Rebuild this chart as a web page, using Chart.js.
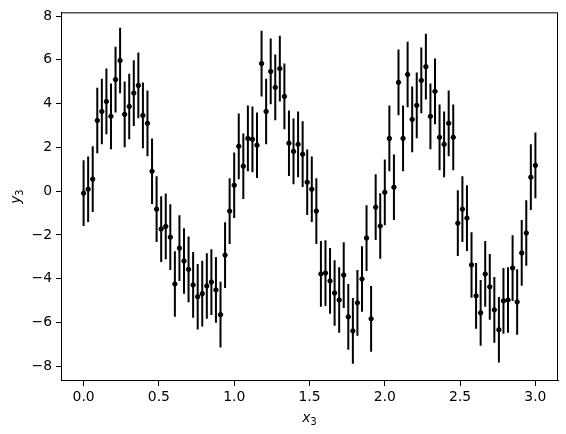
<!DOCTYPE html>
<html>
<head>
<meta charset="utf-8">
<script src="https://cdn.jsdelivr.net/npm/chart.js@4.4.1/dist/chart.umd.min.js"></script>
<style>
  html, body { margin: 0; padding: 0; background: #fff; }
</style>
</head>
<body>
<canvas id="chart" width="566" height="434"></canvas>
<script>
// x positions of the samples (evenly spaced on 0..3)
const xValues = [
  0.0000, 0.0303, 0.0606, 0.0909, 0.1212, 0.1515, 0.1818, 0.2121, 0.2424, 0.2727,
  0.3030, 0.3333, 0.3636, 0.3939, 0.4242, 0.4545, 0.4848, 0.5152, 0.5455, 0.5758,
  0.6061, 0.6364, 0.6667, 0.6970, 0.7273, 0.7576, 0.7879, 0.8182, 0.8485, 0.8788,
  0.9091, 0.9394, 0.9697, 1.0000, 1.0303, 1.0606, 1.0909, 1.1212, 1.1515, 1.1818,
  1.2121, 1.2424, 1.2727, 1.3030, 1.3333, 1.3636, 1.3939, 1.4242, 1.4545, 1.4848,
  1.5152, 1.5455, 1.5758, 1.6061, 1.6364, 1.6667, 1.6970, 1.7273, 1.7576, 1.7879,
  1.8182, 1.8485, 1.8788, 1.9091, 1.9394, 1.9697, 2.0000, 2.0303, 2.0606, 2.0909,
  2.1212, 2.1515, 2.1818, 2.2121, 2.2424, 2.2727, 2.3030, 2.3333, 2.3636, 2.3939,
  2.4242, 2.4545, 2.4848, 2.5152, 2.5455, 2.5758, 2.6061, 2.6364, 2.6667, 2.6970,
  2.7273, 2.7576, 2.7879, 2.8182, 2.8485, 2.8788, 2.9091, 2.9394, 2.9697, 3.0000
];

// measured y values
const yValues = [
  -0.09, 0.09, 0.55, 3.23, 3.64, 4.10, 3.42, 5.10, 5.97, 3.51,
  3.87, 4.48, 4.83, 3.46, 3.10, 0.91, -0.82, -1.73, -1.61, -2.10,
  -4.24, -2.60, -3.19, -3.57, -4.28, -4.82, -4.68, -4.33, -4.15, -4.51,
  -5.64, -2.92, -0.91, 0.27, 2.05, 1.14, 2.41, 2.37, 2.10, 5.83,
  3.64, 5.47, 4.74, 5.60, 4.33, 2.19, 1.82, 2.14, 1.69, 0.41,
  0.09, -0.91, -3.78, -3.74, -4.10, -4.65, -4.97, -3.83, -5.74, -6.38,
  -5.10, -4.01, -2.14, -5.83, -0.73, -1.59, -0.05, 2.41, 0.18, 4.97,
  2.41, 5.33, 3.28, 3.92, 5.06, 5.69, 3.42, 4.56, 2.46, 2.14,
  3.10, 2.46, -1.46, -0.82, -1.23, -3.37, -4.78, -5.56, -3.78, -4.37,
  -5.42, -6.33, -5.01, -4.97, -3.51, -5.06, -2.82, -1.91, 0.64, 1.18
];

// symmetric error on every point
const yErr = 1.5;

const xTicks = [0, 0.5, 1, 1.5, 2, 2.5, 3];
const yTicks = [-8, -6, -4, -2, 0, 2, 4, 6, 8];

const tickFont = { family: 'DejaVu Sans', size: 13.9 };

// points for the scatter
const points = xValues.map((x, i) => ({ x: x, y: yValues[i] }));

// error bars as one broken line: low, high, gap
const errSegments = [];
xValues.forEach((x, i) => {
  errSegments.push({ x: x, y: yValues[i] - yErr });
  errSegments.push({ x: x, y: yValues[i] + yErr });
  errSegments.push({ x: x, y: null });
});

function fmtMinus(v, digits) {
  const s = Math.abs(v).toFixed(digits);
  return v < 0 ? '\u2212' + s : s;
}

// frame and math-style axis labels
const framePlugin = {
  id: 'frame',
  afterDraw(chart) {
    const { ctx, chartArea: a } = chart;
    ctx.save();
    ctx.strokeStyle = '#000';
    ctx.lineWidth = 1;
    ctx.strokeRect(a.left + 0.5, a.top + 0.5, a.right - a.left - 1, a.bottom - a.top - 1);

    ctx.fillStyle = '#000';
    ctx.textBaseline = 'alphabetic';
    const main = 'italic 13.9px "DejaVu Sans"';
    const sub = '9.7px "DejaVu Sans"';

    function drawLabel(letter) {
      ctx.font = main;
      const w1 = ctx.measureText(letter).width;
      ctx.font = sub;
      const w2 = ctx.measureText('3').width;
      const start = -(w1 + w2) / 2;
      ctx.font = main;
      ctx.textAlign = 'left';
      ctx.fillText(letter, start, 0);
      ctx.font = sub;
      ctx.fillText('3', start + w1, 3);
    }

    // x label
    ctx.save();
    ctx.translate((a.left + a.right) / 2, 422);
    drawLabel('x');
    ctx.restore();

    // y label
    ctx.save();
    ctx.translate(20, (a.top + a.bottom) / 2);
    ctx.rotate(-Math.PI / 2);
    drawLabel('y');
    ctx.restore();

    ctx.restore();
  }
};

new Chart(document.getElementById('chart'), {
  type: 'scatter',
  data: {
    datasets: [
      {
        label: 'error',
        type: 'line',
        data: errSegments,
        borderColor: '#000',
        borderWidth: 2,
        pointRadius: 0,
        spanGaps: false,
        fill: false
      },
      {
        label: 'y3',
        data: points,
        backgroundColor: '#000',
        borderColor: '#000',
        borderWidth: 1,
        pointRadius: 2.2
      }
    ]
  },
  options: {
    responsive: false,
    animation: false,
    devicePixelRatio: 1,
    layout: { padding: { top: 12, right: 8, left: 0, bottom: 0 } },
    plugins: {
      legend: { display: false },
      tooltip: { enabled: false }
    },
    scales: {
      x: {
        type: 'linear',
        min: -0.15,
        max: 3.15,
        afterBuildTicks: s => { s.ticks = xTicks.map(v => ({ value: v })); },
        afterFit: s => { s.height = 53; },
        grid: { drawOnChartArea: false, drawTicks: true, tickLength: 5, color: '#000' },
        border: { display: true, color: '#000', width: 1 },
        ticks: {
          color: '#000',
          font: tickFont,
          padding: 3,
          maxRotation: 0,
          autoSkip: false,
          callback: v => fmtMinus(v, 1)
        }
      },
      y: {
        type: 'linear',
        min: -8.67,
        max: 8.17,
        afterBuildTicks: s => { s.ticks = yTicks.map(v => ({ value: v })); },
        afterFit: s => { s.width = 61; },
        grid: { drawOnChartArea: false, drawTicks: true, tickLength: 5, color: '#000' },
        border: { display: true, color: '#000', width: 1 },
        ticks: {
          color: '#000',
          font: tickFont,
          padding: 4,
          autoSkip: false,
          callback: v => fmtMinus(v, 0)
        }
      }
    }
  },
  plugins: [framePlugin]
});
</script>
</body>
</html>
